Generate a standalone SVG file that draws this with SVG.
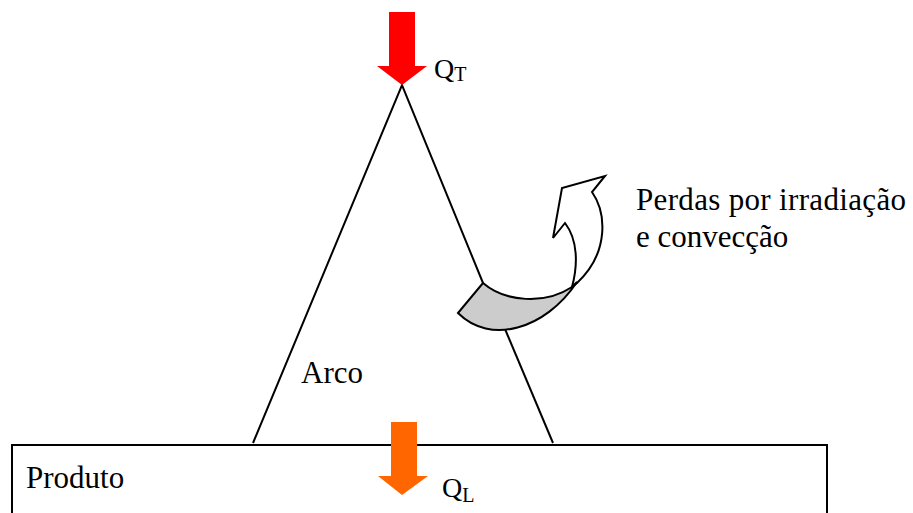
<svg xmlns="http://www.w3.org/2000/svg" width="913" height="513" viewBox="0 0 913 513">
<style>
.ln{stroke:#000;stroke-width:2;fill:none}
.t{font-family:"Liberation Serif","Times New Roman",serif;font-size:31px;fill:#000}
.q{font-family:"Liberation Serif","Times New Roman",serif;font-size:28px;fill:#000}
.s{font-family:"Liberation Serif","Times New Roman",serif;font-size:20px;fill:#000}
</style>
<rect width="913" height="513" fill="#fff"/>
<g id="produto">
<path class="ln" d="M12,515 L12,445 L827,445 L827,515"/>
<text class="t" x="26" y="488">Produto</text>
</g>
<g id="connectors">
<path class="ln" d="M253,443 L402,85 L483,283"/>
<path class="ln" d="M505,329 L553,443"/>
</g>
<g id="arco">
<text class="t" x="301" y="383">Arco</text>
</g>
<g id="perdas">
<path d="M572,287 C578,265 578,240 565,223 L553,238 L562,188 L605,176 L592,192 C606,212 610,252 577,283 Z" fill="#fff" stroke="#000" stroke-width="2" stroke-linejoin="miter"/>
<path d="M483,283 C505,302 545,305 572,287 L577,282 C545,330 490,345 458,313 Z" fill="#cccccc" stroke="#000" stroke-width="2"/>
<text class="t" x="636" y="210" textLength="270">Perdas por irradiação</text>
<text class="t" x="636" y="247">e convecção</text>
</g>
<g id="qt">
<path d="M389,12 L415,12 L415,66 L427,66 L402,85 L377,66 L389,66 Z" fill="#ff0000"/>
<text class="q" x="434" y="78">Q<tspan class="s" dy="3">T</tspan></text>
</g>
<g id="ql">
<path d="M391,422 L417,422 L417,476 L428,476 L402,495 L378,476 L391,476 Z" fill="#ff6600"/>
<text class="q" x="442" y="497">Q<tspan class="s" dy="5">L</tspan></text>
</g>
</svg>
